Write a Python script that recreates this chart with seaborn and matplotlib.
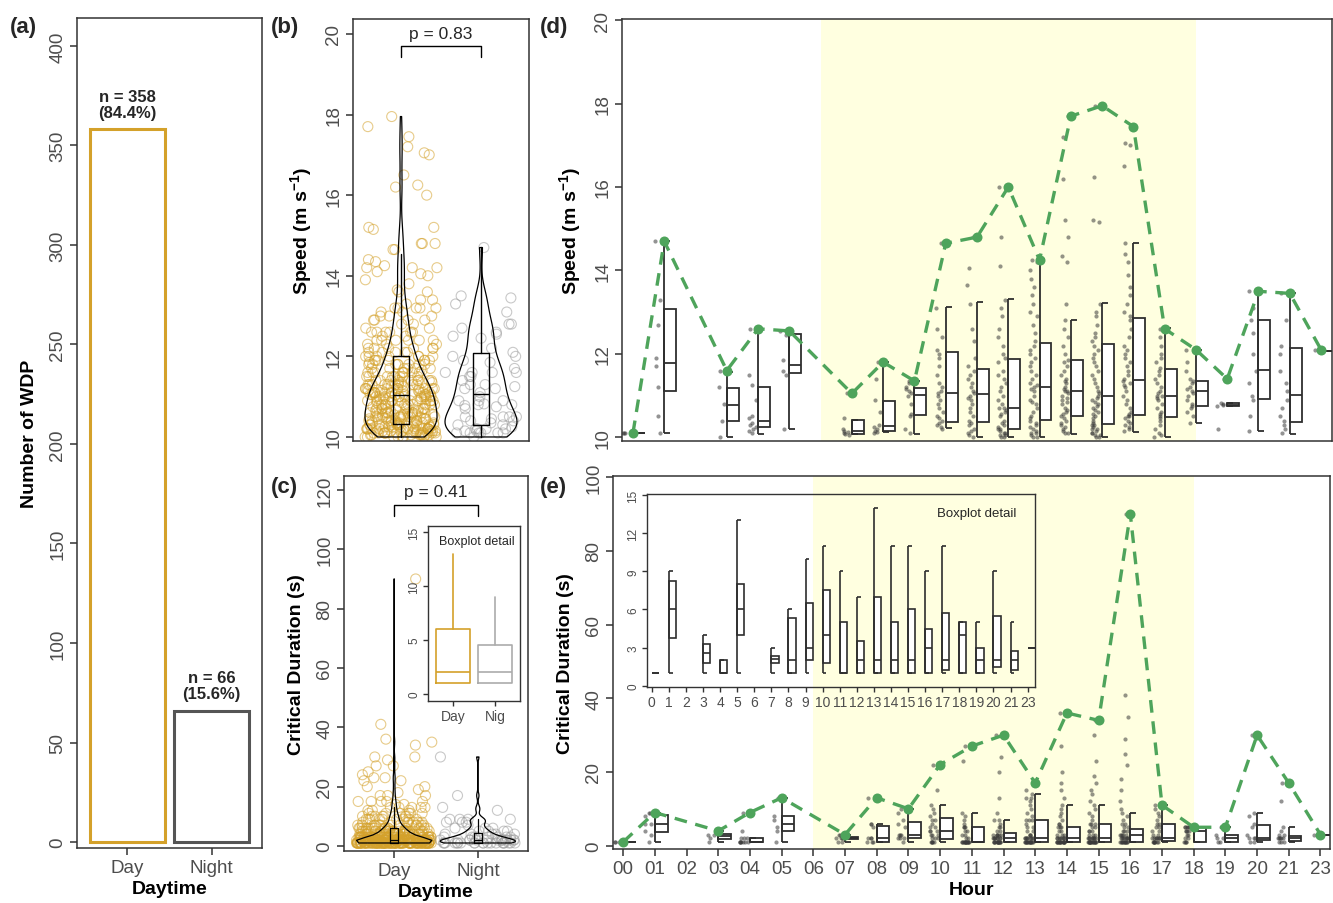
import numpy as np
import pandas as pd
import matplotlib
matplotlib.use("Agg")
import matplotlib.pyplot as plt
import seaborn as sns

# ------------------------------------------------------------------ data
DAYTIME = ["Day", "Night"]
WDP_COUNT = [358, 66]
P_SPEED = 0.83
P_DURATION = 0.41

HOUR_LABELS = ["00", "01", "02", "03", "04", "05", "06", "07", "08", "09", "10", "11",
               "12", "13", "14", "15", "16", "17", "18", "19", "20", "21", "23"]
INSET_HOUR_LABELS = ["0", "1", "2", "3", "4", "5", "6", "7", "8", "9", "10", "11",
                     "12", "13", "14", "15", "16", "17", "18", "19", "20", "21", "23"]
INSET_DAYTIME_LABELS = ["Day", "Nig"]
DAY_START, DAY_END = "06", "18"

DATA_HOURS = ["00", "01", "03", "04", "05", "07", "08", "09", "10", "11", "12", "13",
              "14", "15", "16", "17", "18", "19", "20", "21", "23"]

SPEED_H00 = [10.1, 10.1, 10.1]
DUR_H00 = [1, 1, 1]
SPEED_H01 = [10.1, 10.5, 11.2, 11.7, 11.9, 12.7, 13.3, 14.7]
DUR_H01 = [1, 3, 4, 6, 6, 8, 9, 9]
SPEED_H03 = [10.0, 10.4, 10.8, 11.2, 11.6]
DUR_H03 = [1, 2, 3, 3, 4]
SPEED_H04 = [10.1, 10.15, 10.2, 10.25, 10.3, 10.35, 10.45, 10.5, 10.9, 11.25, 11.5, 12.6]
DUR_H04 = [1, 1, 1, 1, 1, 1, 1, 2, 2, 2, 4, 9]
SPEED_H05 = [10.2, 11.5, 11.6, 11.85, 12.45, 12.55]
DUR_H05 = [1, 4, 5, 7, 8, 13]
SPEED_H07 = [10.05, 10.08, 10.1, 10.12, 10.15, 10.2, 10.45, 11.05]
DUR_H07 = [1, 1, 2, 2, 2, 2, 3, 3]
SPEED_H08 = [10.1, 10.12, 10.15, 10.2, 10.25, 10.3, 10.6, 10.9, 11.4, 11.8]
DUR_H08 = [1, 1, 1, 2, 2, 2, 5, 6, 6, 13]
SPEED_H09 = [10.1, 10.2, 10.5, 10.55, 10.8, 11.0, 11.05, 11.1, 11.15, 11.2, 11.3, 11.35]
DUR_H09 = [1, 2, 2, 2, 3, 3, 3, 5, 6, 7, 9, 10]
SPEED_H10 = [10.2, 10.25, 10.3, 10.35, 10.4, 10.45, 10.5, 10.6, 10.7, 10.8, 10.9, 11.0, 11.05,
             11.1, 11.2, 11.3, 11.5, 11.7, 11.9, 12.0, 12.1, 12.4, 12.6, 13.1, 14.65]
DUR_H10 = [1, 1, 1, 1, 1, 2, 2, 2, 3, 3, 3, 4, 4, 4, 5, 5, 6, 7, 7, 8, 9, 10, 11, 15, 22]
SPEED_H11 = [10.0, 10.05, 10.1, 10.15, 10.2, 10.3, 10.35, 10.4, 10.5, 10.6, 10.7, 10.8, 10.9,
             10.95, 11.0, 11.05, 11.1, 11.2, 11.3, 11.4, 11.5, 11.6, 11.7, 11.9, 12.3, 12.6,
             13.2, 13.65, 14.05, 14.8]
DUR_H11 = [1, 1, 1, 1, 1, 1, 1, 1, 1, 1, 1, 1, 1, 1, 1, 2, 2, 3, 3, 4, 4, 5, 5, 5, 6, 7, 8,
           9, 23, 27]
SPEED_H12 = [10.0, 10.0, 10.05, 10.05, 10.1, 10.1, 10.15, 10.2, 10.2, 10.25, 10.3, 10.35, 10.4,
             10.5, 10.55, 10.6, 10.65, 10.7, 10.7, 10.8, 10.9, 11.0, 11.1, 11.2, 11.3, 11.4,
             11.5, 11.6, 11.8, 11.9, 12.0, 12.2, 12.4, 12.6, 12.9, 13.1, 13.3, 14.1, 14.8, 16.0]
DUR_H12 = [1, 1, 1, 1, 1, 1, 1, 1, 1, 1, 1, 1, 1, 1, 2, 2, 2, 2, 2, 2, 2, 2, 3, 3, 3, 3, 3,
           3, 4, 4, 5, 5, 6, 7, 7, 9, 13, 20, 24, 30]
SPEED_H13 = [10.0, 10.0, 10.05, 10.1, 10.1, 10.15, 10.2, 10.25, 10.3, 10.35, 10.4, 10.45, 10.5,
             10.6, 10.7, 10.8, 10.85, 10.9, 11.0, 11.1, 11.15, 11.2, 11.25, 11.3, 11.4, 11.5,
             11.6, 11.7, 11.8, 11.9, 12.0, 12.1, 12.2, 12.3, 12.5, 12.7, 12.9, 13.0, 13.2,
             13.4, 13.6, 13.8, 14.0, 14.2, 14.25]
DUR_H13 = [1, 1, 1, 1, 1, 1, 1, 1, 1, 1, 1, 1, 1, 1, 1, 2, 2, 2, 2, 2, 2, 2, 2, 2, 3, 3, 3,
           4, 4, 5, 5, 6, 7, 7, 7, 8, 9, 10, 11, 12, 13, 13, 14, 15, 17]
SPEED_H14 = [10.1, 10.1, 10.15, 10.2, 10.25, 10.3, 10.35, 10.4, 10.45, 10.5, 10.55, 10.6, 10.65,
             10.7, 10.8, 10.85, 10.9, 10.95, 11.0, 11.05, 11.1, 11.1, 11.15, 11.2, 11.3, 11.35,
             11.4, 11.5, 11.6, 11.7, 11.8, 11.85, 12.0, 12.2, 12.4, 12.6, 12.8, 13.2, 14.2,
             14.35, 14.8, 15.2, 16.2, 17.2, 17.7]
DUR_H14 = [1, 1, 1, 1, 1, 1, 1, 1, 1, 1, 1, 1, 1, 1, 1, 1, 2, 2, 2, 2, 2, 2, 2, 2, 3, 3, 3,
           4, 4, 5, 5, 5, 6, 6, 7, 8, 9, 10, 11, 13, 15, 17, 20, 27, 36]
SPEED_H15 = [10.0, 10.0, 10.05, 10.05, 10.1, 10.1, 10.15, 10.2, 10.2, 10.25, 10.3, 10.3, 10.35,
             10.4, 10.45, 10.5, 10.55, 10.6, 10.65, 10.7, 10.75, 10.8, 10.85, 10.9, 10.95,
             11.0, 11.05, 11.1, 11.2, 11.3, 11.4, 11.5, 11.6, 11.7, 11.8, 11.9, 12.0, 12.1,
             12.2, 12.3, 12.4, 12.5, 12.7, 12.9, 13.0, 13.2, 15.15, 15.2, 16.25, 17.95]
DUR_H15 = [1, 1, 1, 1, 1, 1, 1, 1, 1, 1, 1, 1, 1, 1, 1, 1, 1, 2, 2, 2, 2, 2, 2, 2, 2, 2, 3,
           3, 3, 4, 4, 4, 5, 5, 6, 6, 6, 7, 8, 9, 10, 11, 12, 14, 15, 17, 19, 23, 30, 34]
SPEED_H16 = [10.15, 10.2, 10.25, 10.3, 10.35, 10.4, 10.45, 10.5, 10.5, 10.55, 10.6, 10.7, 10.8,
             10.9, 11.0, 11.1, 11.2, 11.25, 11.3, 11.35, 11.4, 11.5, 11.6, 11.7, 11.8, 11.9,
             12.0, 12.1, 12.2, 12.4, 12.6, 12.8, 12.9, 13.0, 13.2, 13.4, 13.6, 13.9, 14.2,
             14.4, 14.65, 16.5, 17.0, 17.05, 17.45]
DUR_H16 = [1, 1, 1, 1, 1, 1, 1, 1, 1, 1, 1, 1, 2, 2, 2, 2, 2, 2, 2, 2, 3, 3, 3, 3, 3, 4, 4,
           4, 5, 5, 6, 6, 7, 8, 9, 10, 12, 15, 18, 22, 25, 29, 35, 41, 90]
SPEED_H17 = [10.0, 10.05, 10.1, 10.2, 10.3, 10.4, 10.45, 10.5, 10.55, 10.6, 10.7, 10.8, 10.9,
             10.95, 11.0, 11.0, 11.05, 11.1, 11.2, 11.3, 11.4, 11.5, 11.6, 11.65, 11.8, 11.9,
             12.0, 12.2, 12.4, 12.6]
DUR_H17 = [1, 1, 1, 1, 1, 1, 1, 1, 2, 2, 2, 2, 2, 2, 2, 2, 3, 3, 4, 4, 5, 5, 6, 6, 7, 8, 9,
           10, 11, 11]
SPEED_H18 = [10.35, 10.5, 10.6, 10.7, 10.75, 10.8, 10.9, 11.0, 11.05, 11.1, 11.15, 11.2, 11.3,
             11.35, 11.4, 11.6, 11.8, 12.1]
DUR_H18 = [1, 1, 1, 1, 2, 2, 3, 3, 4, 4, 4, 4, 5, 5, 5, 5, 5, 5]
SPEED_H19 = [10.2, 10.75, 10.78, 10.8, 10.82, 11.4]
DUR_H19 = [1, 1, 2, 2, 3, 5]
SPEED_H20 = [10.15, 10.5, 10.9, 11.0, 11.3, 11.6, 12.0, 12.5, 12.8, 13.1, 13.5]
DUR_H20 = [1, 1, 2, 2, 2, 3, 5, 6, 8, 9, 30]
SPEED_H21 = [10.1, 10.2, 10.3, 10.4, 10.5, 10.7, 10.9, 11.1, 11.3, 11.6, 12.0, 12.2, 12.8, 13.45]
DUR_H21 = [1, 1, 1, 2, 2, 2, 2, 2, 3, 3, 4, 5, 12, 17]
SPEED_H23 = [12.1]
DUR_H23 = [3]

# half-boxplot statistics per hour (order of DATA_HOURS)
SPD_LO = [10.1, 10.1, 10.0, 10.08, 10.2, 10.08, 10.12, 10.08, 10.22, 10.0, 10.0, 10.0, 10.08,
          10.0, 10.13, 10.01, 10.34, 10.74, 10.14, 10.08, 12.08]
SPD_Q1 = [10.1, 11.10, 10.40, 10.24, 11.53, 10.08, 10.14, 10.53, 10.36, 10.36, 10.20, 10.41,
          10.52, 10.32, 10.53, 10.49, 10.74, 10.74, 10.92, 10.37, 12.08]
SPD_MED = [10.1, 11.77, 10.78, 10.40, 11.73, 10.14, 10.28, 11.02, 11.06, 11.04, 10.70, 11.21,
           11.12, 10.98, 11.37, 11.00, 11.10, 10.78, 11.61, 11.02, 12.08]
SPD_Q3 = [10.1, 13.08, 11.17, 11.20, 12.47, 10.41, 10.88, 11.18, 12.04, 11.64, 11.88, 12.25,
          11.86, 12.24, 12.86, 11.64, 11.36, 10.82, 12.82, 12.13, 12.08]
SPD_HI = [10.1, 14.70, 11.56, 12.60, 12.47, 10.41, 11.81, 11.34, 13.13, 13.24, 13.32, 14.27,
          12.82, 13.21, 14.66, 12.61, 12.10, 10.82, 13.49, 13.46, 12.08]
# half-boxplot statistics per hour (e)
DUR_LO = [1, 1, 1, 1, 1, 1, 1, 1, 1, 1, 1, 1, 1, 1, 1, 1, 1, 1, 1, 1, 3]
DUR_Q1 = [1, 3.75, 1.76, 1, 4, 1.8, 1, 2, 1.76, 1, 1, 1, 1, 1, 1, 1.23, 1, 1, 1.5, 1.25, 3]
DUR_MED = [1, 6, 2.54, 1, 6, 2.1, 2, 3, 4, 1, 2, 2, 2, 2, 3, 2, 4, 2, 2, 2, 3]
DUR_Q3 = [1, 8.26, 3.28, 2, 8, 2.3, 5.3, 6.5, 7.53, 5, 3.5, 7, 5, 6, 4.5, 5.75, 5, 3, 5.5, 2.75, 3]
DUR_HI = [1, 9, 4, 2, 13, 3, 6, 10, 11, 9, 7, 14, 11, 11, 9, 11, 5, 5, 9, 5, 3]

# Day / Night boxplot statistics (panels b, c and inset)
SPD_DN_LO = [10.0, 10.0]
SPD_DN_Q1 = [10.33, 10.30]
SPD_DN_MED = [11.03, 11.07]
SPD_DN_Q3 = [12.02, 12.08]
SPD_DN_HI = [14.55, 14.71]
DUR_DN_LO = [1, 1]
DUR_DN_Q1 = [1, 1]
DUR_DN_MED = [2, 2]
DUR_DN_Q3 = [6, 4.5]
DUR_DN_HI = [13, 9]

SPEED_BY_HOUR = [SPEED_H00, SPEED_H01, SPEED_H03, SPEED_H04, SPEED_H05, SPEED_H07, SPEED_H08,
                 SPEED_H09, SPEED_H10, SPEED_H11, SPEED_H12, SPEED_H13, SPEED_H14, SPEED_H15,
                 SPEED_H16, SPEED_H17, SPEED_H18, SPEED_H19, SPEED_H20, SPEED_H21, SPEED_H23]
DUR_BY_HOUR = [DUR_H00, DUR_H01, DUR_H03, DUR_H04, DUR_H05, DUR_H07, DUR_H08, DUR_H09, DUR_H10,
               DUR_H11, DUR_H12, DUR_H13, DUR_H14, DUR_H15, DUR_H16, DUR_H17, DUR_H18, DUR_H19,
               DUR_H20, DUR_H21, DUR_H23]

rows = []
for h, sp, du in zip(DATA_HOURS, SPEED_BY_HOUR, DUR_BY_HOUR):
    for s, d in zip(sp, du):
        rows.append(dict(hour=h, idx=HOUR_LABELS.index(h), speed=s, dur=d,
                         daytime="Day" if DAY_START < h <= DAY_END else "Night"))
df = pd.DataFrame(rows)
df["xpt"] = df["idx"] - 0.2
hour_idx = [HOUR_LABELS.index(h) for h in DATA_HOURS]

# ------------------------------------------------------------------ style
GOLD = "#D4A12A"
NIGHT_DARK = "#555555"
NIGHT_LIGHT = "#9C9C9C"
GREEN = "#4EA45B"
SHADE = "#FFFFE0"
FRAME = "#333333"
TICKTXT = "#4D4D4D"
BOXC = "#2E2E2E"

sns.set_theme(style="white")
plt.rcParams["font.family"] = ["Liberation Sans", "DejaVu Sans"]
plt.rcParams["mathtext.default"] = "regular"
np.random.seed(7)

W, H = 1333, 904
fig = plt.figure(figsize=(W / 100, H / 100), dpi=100)


def px_axes(x0, y0, x1, y1):
    return fig.add_axes([x0 / W, 1 - y1 / H, (x1 - x0) / W, (y1 - y0) / H])


def style(ax, size=13.5, lw=1.1, length=4.8, pad=3):
    for s in ax.spines.values():
        s.set_visible(True)
        s.set_color(FRAME)
        s.set_linewidth(lw)
    ax.tick_params(direction="out", length=length, width=lw, color=FRAME,
                   labelcolor=TICKTXT, labelsize=size, pad=pad, left=True, bottom=True)
    ax.grid(False)


def yticks(ax, ticks, size=13.5):
    ax.set_yticks(ticks)
    ax.set_yticklabels([f"{t:g}" for t in ticks], rotation=90, va="center",
                       fontsize=size, color=TICKTXT)


def open_circles(ax, alpha, lw):
    for coll in ax.collections:
        fc = coll.get_facecolors().copy()
        fc[:, 3] = alpha
        coll.set_edgecolors(fc)
        coll.set_facecolors("none")
        coll.set_linewidths(lw)


def stats_list(lo, q1, med, q3, hi):
    return [dict(whislo=a, q1=b, med=c, q3=d, whishi=e, fliers=[])
            for a, b, c, d, e in zip(lo, q1, med, q3, hi)]


def center_boxes(ax, stats, pos, width, color, lw):
    ax.bxp(stats, positions=pos, widths=width, showcaps=False, showfliers=False,
           patch_artist=False, manage_ticks=False,
           boxprops=dict(color=color, linewidth=lw),
           medianprops=dict(color=color, linewidth=lw),
           whiskerprops=dict(color=color, linewidth=lw), zorder=4)


def half_boxes(ax, pos, lo, q1, med, q3, hi, width, capw, lw):
    st = stats_list(lo, q1, med, q3, hi)
    ax.bxp(st, positions=[p + width / 2 for p in pos], widths=width, showcaps=False,
           showfliers=False, patch_artist=True, manage_ticks=False,
           boxprops=dict(facecolor="white", edgecolor=BOXC, linewidth=lw),
           medianprops=dict(color=BOXC, linewidth=lw),
           whiskerprops=dict(visible=False), zorder=4)
    for p, a, b in zip(pos, lo, hi):
        if b > a:
            ax.vlines(p, a, b, color=BOXC, lw=lw, zorder=4)
            ax.hlines([a, b], p, p + capw, color=BOXC, lw=lw, zorder=4)


def bold_label(ax, axis, text, pad):
    kw = dict(fontsize=14, fontweight="bold", color="black", labelpad=pad)
    if axis == "x":
        ax.set_xlabel(text, **kw)
    else:
        ax.set_ylabel(text, **kw)


SPEED_TITLE = r"Speed (m s$^{-1}$)"
DASH = (0, (3.8, 2.6))

# ------------------------------------------------------------------ (a)
axa = px_axes(77, 19, 262, 849)
sns.barplot(x=DAYTIME, y=WDP_COUNT, hue=DAYTIME, palette=[GOLD, NIGHT_DARK], fill=False,
            width=0.9, linewidth=2.2, errorbar=None, legend=False, ax=axa)
total = sum(WDP_COUNT)
for i, n in enumerate(WDP_COUNT):
    axa.text(i, n + 5, f"n = {n}\n({100 * n / total:.1f}%)", ha="center", va="bottom",
             fontsize=12, fontweight="bold", linespacing=1.05)
axa.set_xlim(-0.6, 1.6)
axa.set_ylim(-3, 414)
style(axa)
yticks(axa, [0, 50, 100, 150, 200, 250, 300, 350, 400])
bold_label(axa, "x", "Daytime", 3)
bold_label(axa, "y", "Number of WDP", 8)

# ------------------------------------------------------------------ (b)
axb = px_axes(353, 20, 529, 442)
sns.stripplot(data=df, x="daytime", y="speed", order=DAYTIME, hue="daytime",
              hue_order=DAYTIME, palette=[GOLD, NIGHT_LIGHT], jitter=0.45, size=7.2,
              legend=False, ax=axb, zorder=1)
open_circles(axb, 0.55, 0.8)
sns.violinplot(data=df, x="daytime", y="speed", order=DAYTIME, fill=False, color="black",
               linecolor="black", linewidth=0.9, inner=None, cut=0, density_norm="width",
               width=0.9, bw_adjust=0.75, ax=axb)
center_boxes(axb, stats_list(SPD_DN_LO, SPD_DN_Q1, SPD_DN_MED, SPD_DN_Q3, SPD_DN_HI),
             [0, 1], 0.2, "black", 1.0)
axb.plot([0, 0, 1, 1], [19.43, 19.7, 19.7, 19.43], color="black", lw=1.0)
axb.text(0.5, 20.0, f"p = {P_SPEED:.2f}", ha="center", va="center", fontsize=12.5)
axb.set_xlim(-0.6, 1.6)
axb.set_ylim(9.9, 20.37)
style(axb)
axb.set_xticks([])
axb.set_xlabel("")
yticks(axb, [10, 12, 14, 16, 18, 20])
bold_label(axb, "y", SPEED_TITLE, 8)

# ------------------------------------------------------------------ (c)
axc = px_axes(344, 477, 528, 852)
sns.stripplot(data=df, x="daytime", y="dur", order=DAYTIME, hue="daytime",
              hue_order=DAYTIME, palette=[GOLD, NIGHT_LIGHT], jitter=0.45, size=7.2,
              legend=False, ax=axc, zorder=1)
open_circles(axc, 0.55, 0.8)
sns.violinplot(data=df, x="daytime", y="dur", order=DAYTIME, fill=False, color="black",
               linecolor="black", linewidth=0.9, inner=None, cut=0, density_norm="width",
               width=0.9, bw_adjust=0.5, ax=axc)
center_boxes(axc, stats_list(DUR_DN_LO, DUR_DN_Q1, DUR_DN_MED, DUR_DN_Q3, DUR_DN_HI),
             [0, 1], 0.1, "black", 0.9)
axc.plot([0, 0, 1, 1], [111.2, 115, 115, 111.2], color="black", lw=1.0)
axc.text(0.5, 119.6, f"p = {P_DURATION:.2f}", ha="center", va="center", fontsize=12.5)
axc.set_xlim(-0.6, 1.6)
axc.set_ylim(-1.7, 124.7)
style(axc)
axc.set_xticks([0, 1])
axc.set_xticklabels(DAYTIME)
yticks(axc, [0, 20, 40, 60, 80, 100, 120])
bold_label(axc, "x", "Daytime", 3)
bold_label(axc, "y", "Critical Duration (s)", 8)

# inset of (c)
axci = px_axes(428, 527, 520, 702)
axci.set_facecolor("none")
dn_stats = stats_list(DUR_DN_LO, DUR_DN_Q1, DUR_DN_MED, DUR_DN_Q3, DUR_DN_HI)
center_boxes(axci, dn_stats[:1], [0], 0.8, GOLD, 1.2)
center_boxes(axci, dn_stats[1:], [1], 0.8, "#ABABAB", 1.2)
axci.set_xlim(-0.6, 1.6)
axci.set_ylim(-0.65, 15.55)
style(axci, size=10, lw=1.0, length=3.5, pad=2)
axci.set_xticks([0, 1])
axci.set_xticklabels(INSET_DAYTIME_LABELS)
yticks(axci, [0, 5, 10, 15], size=8.5)
axci.text(0.53, 0.915, "Boxplot detail", transform=axci.transAxes, ha="center",
          va="center", fontsize=9)

# ------------------------------------------------------------------ (d)
axd = px_axes(622, 20, 1332, 442)
axd.axvspan(HOUR_LABELS.index(DAY_START), HOUR_LABELS.index(DAY_END), color=SHADE, lw=0,
            zorder=0)
sns.stripplot(data=df, x="xpt", y="speed", native_scale=True, orient="x", jitter=0.13,
              color="#3A3A3A", size=3.0, alpha=0.55, linewidth=0, ax=axd, zorder=2)
half_boxes(axd, hour_idx, SPD_LO, SPD_Q1, SPD_MED, SPD_Q3, SPD_HI, 0.38, 0.19, 1.3)
smax = df.groupby("idx", as_index=False)["speed"].max()
sns.lineplot(data=smax, x="idx", y="speed", color=GREEN, lw=2.4, linestyle=DASH,
             errorbar=None, ax=axd, zorder=5)
sns.scatterplot(data=smax, x="idx", y="speed", color=GREEN, s=52, linewidth=0, ax=axd,
                zorder=6)
axd.set_xlim(-0.35, 22.35)
axd.set_ylim(9.91, 20.03)
style(axd)
axd.set_xticks([])
axd.set_xlabel("")
yticks(axd, [10, 12, 14, 16, 18, 20])
bold_label(axd, "y", SPEED_TITLE, 8)

# ------------------------------------------------------------------ (e)
axe = px_axes(613, 477, 1330, 850)
axe.axvspan(HOUR_LABELS.index(DAY_START), HOUR_LABELS.index(DAY_END), color=SHADE, lw=0,
            zorder=0)
sns.stripplot(data=df, x="xpt", y="dur", native_scale=True, orient="x", jitter=0.13,
              color="#3A3A3A", size=3.0, alpha=0.55, linewidth=0, ax=axe, zorder=2)
half_boxes(axe, hour_idx, DUR_LO, DUR_Q1, DUR_MED, DUR_Q3, DUR_HI, 0.4, 0.19, 1.3)
dmax = df.groupby("idx", as_index=False)["dur"].max()
sns.lineplot(data=dmax, x="idx", y="dur", color=GREEN, lw=2.4, linestyle=DASH,
             errorbar=None, ax=axe, zorder=5)
sns.scatterplot(data=dmax, x="idx", y="dur", color=GREEN, s=52, linewidth=0, ax=axe,
                zorder=6)
axe.set_xlim(-0.32, 22.3)
axe.set_ylim(-0.9, 100.3)
style(axe)
axe.set_xticks(range(len(HOUR_LABELS)))
axe.set_xticklabels(HOUR_LABELS)
yticks(axe, [0, 20, 40, 60, 80, 100])
bold_label(axe, "x", "Hour", 3)
bold_label(axe, "y", "Critical Duration (s)", 8)

# inset of (e)
axei = px_axes(646.7, 495, 1035, 688)
axei.set_facecolor("none")
half_boxes(axei, hour_idx, DUR_LO, DUR_Q1, DUR_MED, DUR_Q3, DUR_HI, 0.42, 0.22, 1.2)
axei.set_xlim(-0.3, 22.43)
axei.set_ylim(-0.1, 15.08)
style(axei, size=10, lw=1.0, length=3.5, pad=2)
axei.set_xticks(range(len(INSET_HOUR_LABELS)))
axei.set_xticklabels(INSET_HOUR_LABELS)
yticks(axei, [0, 3, 6, 9, 12, 15], size=8.5)
axei.text(0.85, 0.9, "Boxplot detail", transform=axei.transAxes, ha="center", va="center",
          fontsize=9.5)

# ------------------------------------------------------------------ panel tags
for tag, x, y in [("(a)", 10, 27), ("(b)", 271, 27), ("(c)", 271, 488),
                  ("(d)", 540, 27), ("(e)", 540, 488)]:
    fig.text(x / W, 1 - y / H, tag, fontsize=16, fontweight="bold", va="center", ha="left")

fig.savefig("out.png", dpi=100)
